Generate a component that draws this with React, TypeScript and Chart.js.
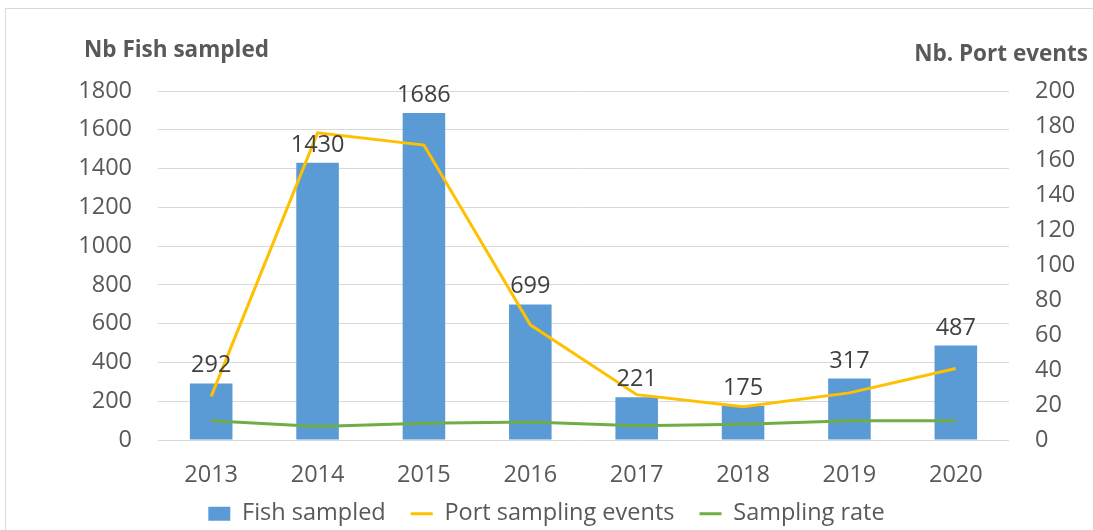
import React, { useEffect, useRef } from "react";
import { Chart, registerables } from "chart.js";

Chart.register(...registerables);

const years = ["2013", "2014", "2015", "2016", "2017", "2018", "2019", "2020"];
const fishSampled = [292, 1430, 1686, 699, 221, 175, 317, 487];
const portEvents = [25, 176, 169, 66, 26, 19, 27, 41];
const samplingRate = [11.0, 7.8, 9.6, 10.3, 8.2, 9.0, 11.0, 11.0];

const leftTitle = "Nb Fish sampled";
const rightTitle = "Nb. Port events";

const FONT = "'Open Sans', 'DejaVu Sans', sans-serif";
const FS = 23.5;
const TEXT = "#595959";

const labelsPlugin = {
  id: "barLabels",
  afterDatasetsDraw(chart: any) {
    const ctx = chart.ctx;
    const meta = chart.getDatasetMeta(0);
    ctx.save();
    ctx.font = `${FS}px ${FONT}`;
    ctx.fillStyle = "#404040";
    ctx.textAlign = "center";
    ctx.textBaseline = "alphabetic";
    meta.data.forEach((el: any, i: number) => {
      ctx.fillText(String(fishSampled[i]), el.x, el.y - 11);
    });
    ctx.restore();
  },
};

const titlesPlugin = {
  id: "axisTitles",
  afterDraw(chart: any) {
    const ctx = chart.ctx;
    const area = chart.chartArea;
    ctx.save();
    ctx.font = `bold 22.5px ${FONT}`;
    ctx.fillStyle = TEXT;
    ctx.textBaseline = "alphabetic";
    ctx.textAlign = "left";
    ctx.fillText(leftTitle, area.left - 74, area.top - 34);
    ctx.textAlign = "right";
    ctx.fillText(rightTitle, area.right + 79, area.top - 30);
    ctx.restore();
  },
};

// keep the legend compact in the layout, then place its row just under the axis labels
const legendPlace = {
  id: "legendPlace",
  beforeLayout(chart: any) {
    const lg = chart.legend;
    if (lg && !lg.__patched) {
      const orig = lg.fit;
      lg.fit = function (this: any) {
        orig.call(this);
        this.height = 34;
      };
      lg.__patched = true;
    }
  },
  afterLayout(chart: any) {
    const lg = chart.legend;
    if (lg) {
      lg.top = chart.chartArea.bottom + 37;
      lg.bottom = lg.top + 60;
    }
  },
};

export default function App() {
  const ref = useRef<HTMLCanvasElement | null>(null);

  useEffect(() => {
    if (!ref.current) return;
    const font = { family: FONT, size: FS };
    const chart = new Chart(ref.current, {
      type: "bar",
      data: {
        labels: years,
        datasets: [
          {
            type: "bar",
            label: "Fish sampled",
            data: fishSampled,
            backgroundColor: "#5B9BD5",
            borderWidth: 0,
            barPercentage: 0.4,
            categoryPercentage: 1,
            yAxisID: "y",
            order: 3,
            pointStyle: "rect",
          } as any,
          {
            type: "line",
            label: "Port sampling events",
            data: portEvents,
            borderColor: "#FFC000",
            backgroundColor: "#FFC000",
            borderWidth: 3,
            pointRadius: 0,
            tension: 0,
            yAxisID: "y1",
            order: 2,
            pointStyle: "line",
          } as any,
          {
            type: "line",
            label: "Sampling rate",
            data: samplingRate,
            borderColor: "#70AD47",
            backgroundColor: "#70AD47",
            borderWidth: 3,
            pointRadius: 0,
            tension: 0,
            yAxisID: "y1",
            order: 1,
            pointStyle: "line",
          } as any,
        ],
      },
      options: {
        responsive: false,
        animation: false,
        layout: { padding: { top: 91, left: 0, right: 0, bottom: 0 } },
        plugins: {
          tooltip: { enabled: false },
          legend: {
            position: "bottom",
            labels: {
              usePointStyle: true,
              pointStyleWidth: 22,
              boxHeight: 14,
              padding: 25,
              font,
              color: TEXT,
              sort: (a: any, b: any) => a.datasetIndex - b.datasetIndex,
            },
          },
        },
        scales: {
          x: {
            grid: { display: false, drawTicks: false },
            border: { display: false },
            ticks: { font, color: TEXT, padding: 21 },
            afterFit: (s: any) => {
              s.height = 56;
            },
          },
          y: {
            position: "left",
            min: 0,
            max: 1800,
            ticks: {
              stepSize: 200,
              font,
              color: TEXT,
              padding: 26,
              callback: (v: any) => String(v),
            },
            grid: { color: "#d9d9d9", drawTicks: false, lineWidth: 1 },
            border: { display: false },
            afterFit: (s: any) => {
              s.width = 158;
            },
          },
          y1: {
            position: "right",
            min: 0,
            max: 200,
            ticks: {
              stepSize: 20,
              font,
              color: TEXT,
              padding: 26,
              callback: (v: any) => String(v),
            },
            grid: { display: false, drawTicks: false },
            border: { display: false },
            afterFit: (s: any) => {
              s.width = 84;
            },
          },
        },
      },
      plugins: [labelsPlugin, titlesPlugin, legendPlace],
    });
    return () => chart.destroy();
  }, []);

  return (
    <div
      style={{
        position: "fixed",
        left: 0,
        top: 0,
        width: 1093,
        height: 530,
        background: "#fff",
        overflow: "hidden",
      }}
    >
      <div
        style={{
          position: "absolute",
          left: 5,
          top: 8,
          right: -2,
          bottom: -2,
          borderLeft: "1px solid #d9d9d9",
          borderTop: "1px solid #d9d9d9",
        }}
      />
      <canvas
        ref={ref}
        width={1093}
        height={530}
        style={{ position: "absolute", left: 0, top: 0 }}
      />
    </div>
  );
}
